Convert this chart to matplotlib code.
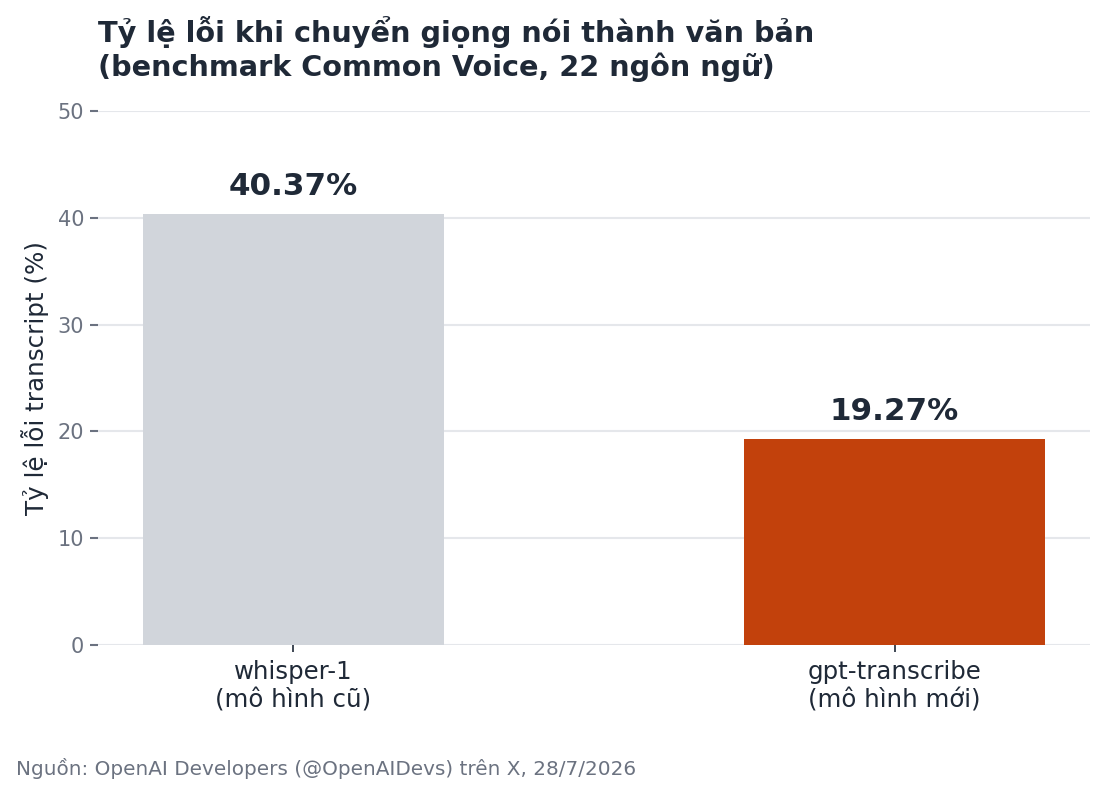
import matplotlib
matplotlib.use("Agg")
import matplotlib.pyplot as plt

plt.rcParams["font.family"] = ["DejaVu Sans"]

categories = ["whisper-1\n(mô hình cũ)", "gpt-transcribe\n(mô hình mới)"]
values = [40.37, 19.27]
colors = ["#d1d5db", "#c2410c"]
yticks = [0, 10, 20, 30, 40, 50]

fig = plt.figure(figsize=(11.05, 7.95), dpi=100)
ax = fig.add_axes([0.0887, 0.1887, 0.8977, 0.6717])

x = list(range(len(categories)))
bars = ax.bar(x, values, width=0.5, color=colors, zorder=2)
ax.set_ylim(0, 50)
ax.set_yticks(yticks)
ax.set_xticks(x)
ax.set_xticklabels(categories, fontsize=17.6, color="#1f2937", linespacing=1.2)
ax.tick_params(axis="y", labelsize=15, colors="#6b7280", length=6, width=1.5, pad=4)
ax.tick_params(axis="x", length=5, width=1.2, color="#1f2937", pad=6)
ax.grid(axis="y", color="#e5e7eb", linewidth=1.5, zorder=0)
for s in ax.spines.values():
    s.set_visible(False)

for xi, v in zip(x, values):
    ax.text(xi, v + 1.2, f"{v:.2f}%", ha="center", va="bottom",
            fontsize=22.3, fontweight="bold", color="#1f2937")

ax.set_ylabel("Tỷ lệ lỗi transcript (%)", fontsize=17.7, color="#1f2937", labelpad=6)

fig.text(0.0887, 0.98, "Tỷ lệ lỗi khi chuyển giọng nói thành văn bản\n(benchmark Common Voice, 22 ngôn ngữ)",
         ha="left", va="top", fontsize=20.7, fontweight="bold", color="#1f2937", linespacing=1.18)
fig.text(0.0145, 0.033, "Nguồn: OpenAI Developers (@OpenAIDevs) trên X, 28/7/2026",
         ha="left", va="center", fontsize=14.4, color="#6b7280")

fig.savefig("out.png", dpi=100)
